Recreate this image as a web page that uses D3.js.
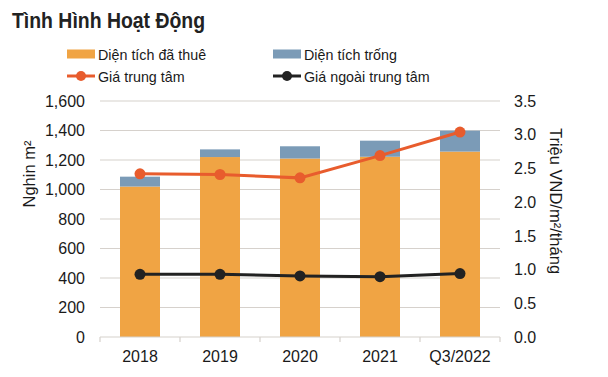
<!DOCTYPE html>
<html>
<head>
<meta charset="utf-8">
<script src="https://cdn.jsdelivr.net/npm/d3@7"></script>
<style>
  body { margin: 0; background: #fff; }
  svg { font-family: "Liberation Sans", Arial, sans-serif; }
</style>
</head>
<body>
<div id="chart"></div>
<script>
const categories = ["2018", "2019", "2020", "2021", "Q3/2022"];
const leased = [1020, 1220, 1210, 1222, 1257];
const vacant = [67, 52, 83, 109, 142];
const priceCenter = [2.42, 2.41, 2.36, 2.69, 3.04];
const priceOutside = [0.93, 0.93, 0.905, 0.895, 0.94];
const leftTicks = [0, 200, 400, 600, 800, 1000, 1200, 1400, 1600];
const rightTicks = [0, 0.5, 1, 1.5, 2, 2.5, 3, 3.5];

const width = 608, height = 377;
const plot = { left: 100, right: 500, top: 101, bottom: 337 };

const svg = d3.select("#chart").append("svg")
    .attr("width", width)
    .attr("height", height);

const x = d3.scaleBand().domain(categories).range([plot.left, plot.right]).paddingInner(0.5).paddingOuter(0.25);
const xOuter = d3.scaleBand().domain(categories).range([plot.left, plot.right]);
const yL = d3.scaleLinear().domain([0, 1600]).range([plot.bottom, plot.top]);
const yR = d3.scaleLinear().domain([0, 3.5]).range([plot.bottom, plot.top]);

// title
svg.append("text")
    .attr("x", 12).attr("y", 28)
    .attr("font-size", 21.5).attr("font-weight", "bold")
    .attr("textLength", 193).attr("lengthAdjust", "spacingAndGlyphs")
    .attr("fill", "#222")
    .text("Tình Hình Hoạt Động");

// gridlines
svg.append("g").selectAll("line")
    .data(leftTicks.filter(d => d > 0))
    .join("line")
    .attr("x1", plot.left).attr("x2", plot.right)
    .attr("y1", d => yL(d)).attr("y2", d => yL(d))
    .attr("stroke", "#d6d1cc").attr("stroke-width", 1.2);

// bars
const bars = svg.append("g");
bars.selectAll(".leased")
    .data(categories)
    .join("rect")
    .attr("x", d => x(d)).attr("width", x.bandwidth())
    .attr("y", (d, i) => yL(leased[i]))
    .attr("height", (d, i) => yL(0) - yL(leased[i]))
    .attr("fill", "#F0A444");
bars.selectAll(".vacant")
    .data(categories)
    .join("rect")
    .attr("x", d => x(d)).attr("width", x.bandwidth())
    .attr("y", (d, i) => yL(leased[i] + vacant[i]))
    .attr("height", (d, i) => yL(leased[i]) - yL(leased[i] + vacant[i]))
    .attr("fill", "#7B9BB7");

// x axis
const xAxisG = svg.append("g");
xAxisG.append("line")
    .attr("x1", plot.left).attr("x2", plot.right)
    .attr("y1", plot.bottom).attr("y2", plot.bottom)
    .attr("stroke", "#d6d1cc").attr("stroke-width", 1.2);
xAxisG.selectAll(".tick")
    .data(categories.concat(["end"]))
    .join("line")
    .attr("x1", (d, i) => i < categories.length ? xOuter(d) : plot.right)
    .attr("x2", (d, i) => i < categories.length ? xOuter(d) : plot.right)
    .attr("y1", plot.bottom).attr("y2", plot.bottom + 5)
    .attr("stroke", "#d6d1cc").attr("stroke-width", 1.2);
xAxisG.selectAll("text")
    .data(categories)
    .join("text")
    .attr("x", d => x(d) + x.bandwidth() / 2)
    .attr("y", 362)
    .attr("text-anchor", "middle")
    .attr("font-size", 16).attr("fill", "#1a1a1a")
    .text(d => d);

// left axis labels
const fmt = d3.format(",");
svg.append("g").selectAll("text")
    .data(leftTicks)
    .join("text")
    .attr("x", 85).attr("y", d => yL(d)).attr("dy", "0.36em")
    .attr("text-anchor", "end")
    .attr("font-size", 16).attr("fill", "#1a1a1a")
    .text(d => fmt(d));

// right axis labels
svg.append("g").selectAll("text")
    .data(rightTicks)
    .join("text")
    .attr("x", 514).attr("y", d => yR(d)).attr("dy", "0.36em")
    .attr("font-size", 16).attr("fill", "#1a1a1a")
    .text(d => d3.format(".1f")(d));

// axis titles
svg.append("text")
    .attr("transform", "translate(35,174) rotate(-90)")
    .attr("text-anchor", "middle")
    .attr("font-size", 16.5).attr("fill", "#1a1a1a")
    .text("Nghin m²");
svg.append("text")
    .attr("transform", "translate(550,201) rotate(90)")
    .attr("text-anchor", "middle")
    .attr("font-size", 16.5).attr("fill", "#1a1a1a")
    .text("Triệu VND/m²/tháng");

// lines
const lineR = d3.line()
    .x((d, i) => x(categories[i]) + x.bandwidth() / 2)
    .y(d => yR(d));

function drawSeries(values, color) {
    const g = svg.append("g");
    g.append("path")
        .attr("d", lineR(values))
        .attr("fill", "none")
        .attr("stroke", color).attr("stroke-width", 3);
    g.selectAll("circle")
        .data(values)
        .join("circle")
        .attr("cx", (d, i) => x(categories[i]) + x.bandwidth() / 2)
        .attr("cy", d => yR(d))
        .attr("r", 5.5)
        .attr("fill", color);
}
drawSeries(priceCenter, "#E85C2D");
drawSeries(priceOutside, "#222222");

// legend
const legend = svg.append("g").attr("font-size", 14.3).attr("fill", "#1a1a1a");
const legendItems = [
    { label: "Diện tích đã thuê", color: "#F0A444", type: "bar", x: 67, y: 54 },
    { label: "Diện tích trống", color: "#7B9BB7", type: "bar", x: 273, y: 54 },
    { label: "Giá trung tâm", color: "#E85C2D", type: "line", x: 67, y: 76 },
    { label: "Giá ngoài trung tâm", color: "#222222", type: "line", x: 273, y: 76 }
];
legendItems.forEach(it => {
    const g = legend.append("g");
    if (it.type === "bar") {
        g.append("rect")
            .attr("x", it.x).attr("y", it.y - 4.5)
            .attr("width", 28).attr("height", 9)
            .attr("fill", it.color);
    } else {
        g.append("line")
            .attr("x1", it.x).attr("x2", it.x + 28)
            .attr("y1", it.y).attr("y2", it.y)
            .attr("stroke", it.color).attr("stroke-width", 3);
        g.append("circle")
            .attr("cx", it.x + 14).attr("cy", it.y).attr("r", 5)
            .attr("fill", it.color);
    }
    g.append("text")
        .attr("x", it.x + 31).attr("y", it.y + 5.5)
        .attr("fill", "#1a1a1a")
        .text(it.label);
});
</script>
</body>
</html>
